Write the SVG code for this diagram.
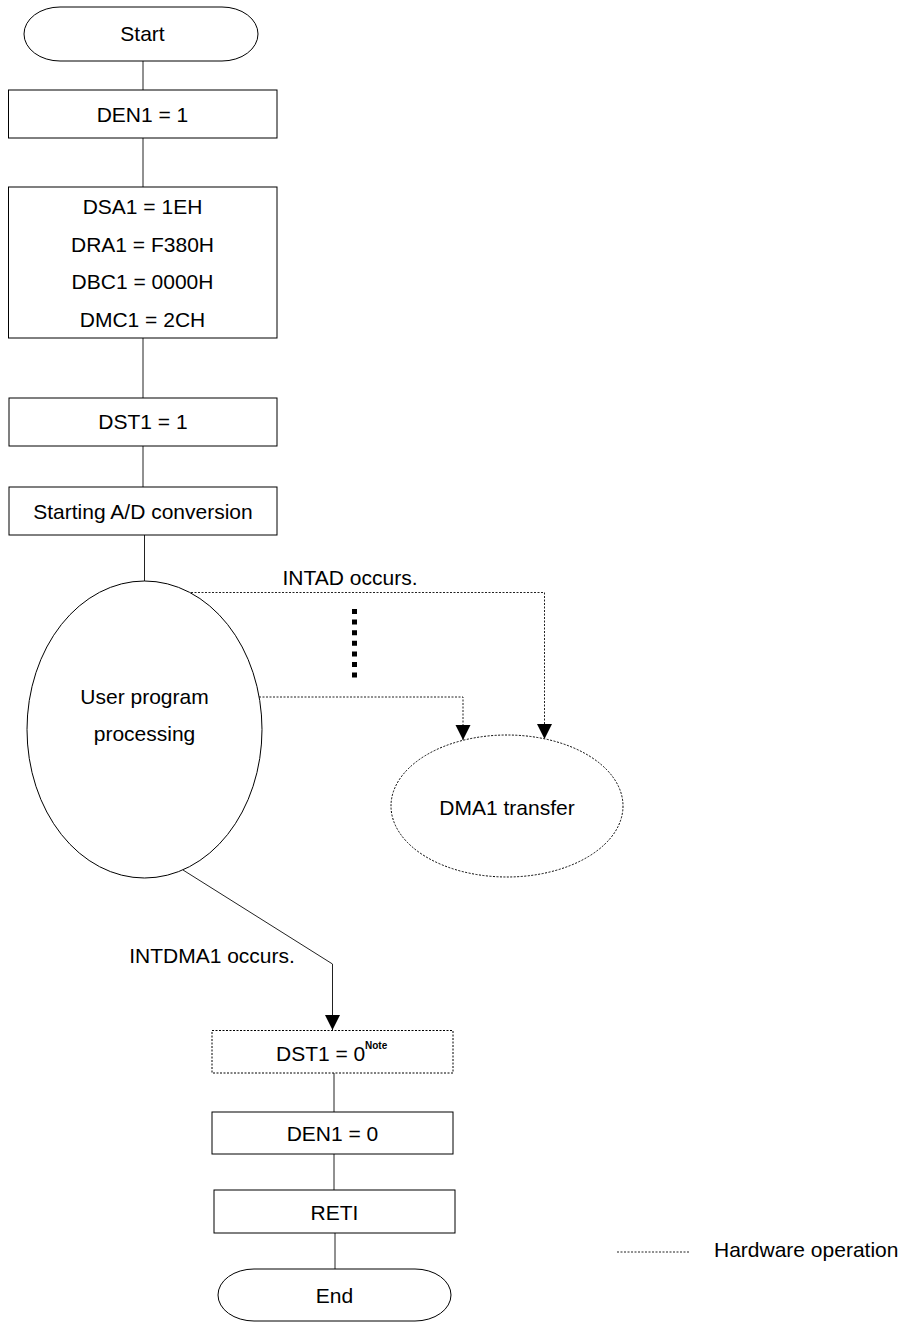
<svg xmlns="http://www.w3.org/2000/svg" width="905" height="1323" viewBox="0 0 905 1323">
<style>
  .box { fill: #fff; stroke: #000; stroke-width: 1; }
  .hw { fill: #fff; stroke: #000; stroke-width: 1; stroke-dasharray: 2 1.5; }
  .t { font-family: "Liberation Sans", Arial, sans-serif; font-size: 21px; fill: #000; text-anchor: middle; }
  .ts { text-anchor: start; }
  .note { font-family: "Liberation Sans", Arial, sans-serif; font-size: 10px; font-weight: bold; fill: #000; }
  .ln { fill: none; stroke: #222; stroke-width: 1; }
  .dl { fill: none; stroke: #222; stroke-width: 1; stroke-dasharray: 2 1.5; }
</style>
<defs>
  <marker id="arr" markerUnits="userSpaceOnUse" markerWidth="16" markerHeight="16" viewBox="0 0 16 16" refX="15" refY="7.5" orient="auto">
    <path d="M0,0 L15,7.5 L0,15 Z" fill="#000"/>
  </marker>
</defs>
<rect width="905" height="1323" fill="#fff"/>

<g id="connectors">
  <line class="ln" x1="143" y1="61" x2="143" y2="90"/>
  <line class="ln" x1="143" y1="138" x2="143" y2="187"/>
  <line class="ln" x1="143" y1="338" x2="143" y2="398"/>
  <line class="ln" x1="143" y1="446" x2="143" y2="487"/>
  <line class="ln" x1="144.5" y1="535" x2="144.5" y2="581"/>
  <polyline class="dl" points="191,592.5 544.5,592.5 544.5,739" marker-end="url(#arr)"/>
  <polyline class="dl" points="259,697 463,697 463,740" marker-end="url(#arr)"/>
  <line x1="354.5" y1="609" x2="354.5" y2="678" stroke="#000" stroke-width="5" stroke-dasharray="5 5.6"/>
  <polyline class="ln" points="183,870 332.5,964 332.5,1030" marker-end="url(#arr)"/>
  <line class="ln" x1="334" y1="1073" x2="334" y2="1112"/>
  <line class="ln" x1="334" y1="1154" x2="334" y2="1190"/>
  <line class="ln" x1="335" y1="1233" x2="335" y2="1269"/>
  <text class="t" x="350" y="585">INTAD occurs.</text>
  <text class="t" x="212" y="963">INTDMA1 occurs.</text>
</g>

<g id="start">
  <rect class="box" x="24" y="7" width="234" height="54" rx="36" ry="27"/>
  <text class="t" x="142.5" y="40.5">Start</text>
</g>
<g id="den1-1">
  <rect class="box" x="8.5" y="90" width="268.5" height="48"/>
  <text class="t" x="142.5" y="121.5">DEN1 = 1</text>
</g>
<g id="dma-setup">
  <rect class="box" x="8.5" y="187" width="268.5" height="151"/>
  <text class="t" x="142.5" y="214">DSA1 = 1EH</text>
  <text class="t" x="142.5" y="252">DRA1 = F380H</text>
  <text class="t" x="142.5" y="289">DBC1 = 0000H</text>
  <text class="t" x="142.5" y="327">DMC1 = 2CH</text>
</g>
<g id="dst1-1">
  <rect class="box" x="9" y="398" width="268" height="48"/>
  <text class="t" x="143" y="429">DST1 = 1</text>
</g>
<g id="start-ad">
  <rect class="box" x="9" y="487" width="268" height="48"/>
  <text class="t" x="143" y="518.5">Starting A/D conversion</text>
</g>
<g id="user-program">
  <ellipse class="box" cx="144.5" cy="729.5" rx="117.5" ry="148.5"/>
  <text class="t" x="144.5" y="704">User program</text>
  <text class="t" x="144.5" y="741">processing</text>
</g>
<g id="dma1-transfer">
  <ellipse class="hw" cx="507" cy="806" rx="116" ry="71"/>
  <text class="t" x="507" y="815">DMA1 transfer</text>
</g>
<g id="dst1-0">
  <rect class="hw" x="212" y="1030.5" width="241" height="42.5"/>
  <text class="t ts" x="276" y="1061">DST1 = 0</text>
  <text class="note" x="365" y="1049">Note</text>
</g>
<g id="den1-0">
  <rect class="box" x="212" y="1112" width="241" height="42"/>
  <text class="t" x="332.5" y="1141">DEN1 = 0</text>
</g>
<g id="reti">
  <rect class="box" x="214" y="1190" width="241" height="43"/>
  <text class="t" x="334.5" y="1220">RETI</text>
</g>
<g id="end">
  <rect class="box" x="218" y="1269" width="233" height="52" rx="36" ry="26"/>
  <text class="t" x="334.5" y="1303">End</text>
</g>
<g id="legend">
  <line class="dl" x1="617" y1="1252" x2="690" y2="1252"/>
  <text class="t ts" x="714" y="1257">Hardware operation</text>
</g>
</svg>
